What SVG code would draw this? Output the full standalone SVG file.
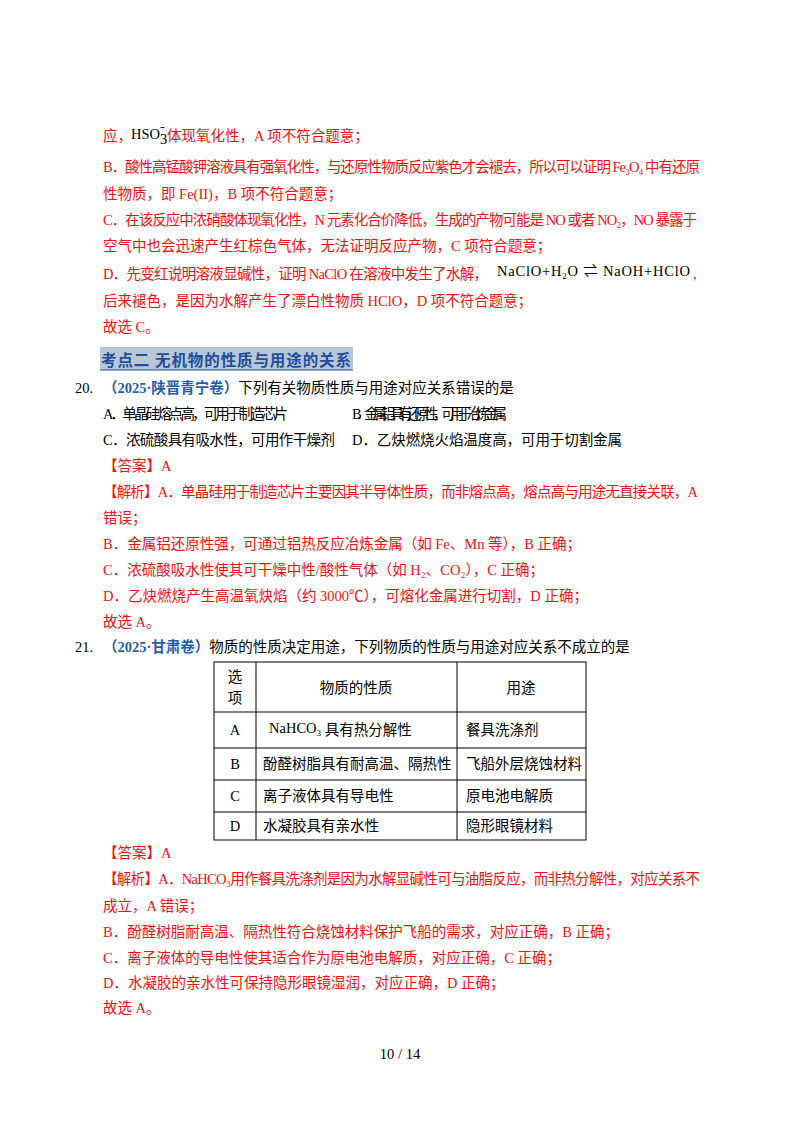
<svg xmlns="http://www.w3.org/2000/svg" width="800" height="1132" viewBox="0 0 800 1132">
<style>
text{font-family:"Liberation Serif","Noto Sans CJK SC",serif;font-size:14.5px;fill:#000}
.r{fill:#f01010}
.b{fill:#1f5fb0;font-weight:bold}
.h{fill:#1f4e9a;font-weight:bold;font-size:15.5px}
.t{stroke:#000;stroke-width:1;fill:none}
</style>
<rect width="800" height="1132" fill="#fff"/>
<g id="part1">
<text x="103" y="141" class="r">应，</text>
<text x="131" y="139" font-size="14.5">HSO</text>
<text x="160" y="144" font-size="8">3</text>
<text x="160" y="131" font-size="9">-</text>
<text x="167" y="141" class="r">体现氧化性，A 项不符合题意；</text>
<text x="103" y="172" class="r" textLength="597">B．酸性高锰酸钾溶液具有强氧化性，与还原性物质反应紫色才会褪去，所以可以证明 Fe₃O₄ 中有还原</text>
<text x="103" y="199" class="r">性物质，即 Fe(II)，B 项不符合题意；</text>
<text x="103" y="225" class="r" textLength="594">C．在该反应中浓硝酸体现氧化性，N 元素化合价降低，生成的产物可能是 NO 或者 NO₂，NO 暴露于</text>
<text x="103" y="251" class="r">空气中也会迅速产生红棕色气体，无法证明反应产物，C 项符合题意；</text>
<text x="103" y="279" class="r" textLength="385">D．先变红说明溶液显碱性，证明 NaClO 在溶液中发生了水解，</text>
<text x="497" y="276" font-size="15.5" textLength="193">NaClO+H<tspan font-size="9" dy="3">2</tspan><tspan dy="-3">O ⇌ NaOH+HClO</tspan></text>
<text x="693" y="279" class="r">,</text>
<text x="103" y="306" class="r">后来褪色，是因为水解产生了漂白性物质 HClO，D 项不符合题意；</text>
<text x="103" y="332" class="r">故选 C。</text>
</g>
<g id="heading">
<rect x="100" y="347" width="253" height="23" fill="#b8c6d6"/>
<line x1="100" y1="370" x2="353" y2="370" stroke="#1f4e9a" stroke-width="1.2"/>
<text x="101" y="366" class="h" textLength="250">考点二 无机物的性质与用途的关系</text>
</g>
<g id="q20">
<text x="75" y="393">20.</text>
<text x="103" y="393"><tspan class="b">（2025·陕晋青宁卷）</tspan>下列有关物质性质与用途对应关系错误的是</text>
<text x="103" y="419" textLength="185">A．单晶硅熔点高，可用于制造芯片</text>
<text x="352" y="419" textLength="155">B．金属铝具有还原性，可用于冶炼金属</text>
<text x="103" y="445" textLength="232">C．浓硫酸具有吸水性，可用作干燥剂</text>
<text x="352" y="445" textLength="270">D．乙炔燃烧火焰温度高，可用于切割金属</text>
<text x="103" y="471" class="r">【答案】A</text>
<text x="103" y="497" class="r" textLength="595">【解析】A．单晶硅用于制造芯片主要因其半导体性质，而非熔点高，熔点高与用途无直接关联，A</text>
<text x="103" y="523" class="r">错误；</text>
<text x="103" y="549" class="r">B．金属铝还原性强，可通过铝热反应冶炼金属（如 Fe、Mn 等），B 正确；</text>
<text x="103" y="575" class="r">C．浓硫酸吸水性使其可干燥中性/酸性气体（如 H₂、CO₂），C 正确；</text>
<text x="103" y="601" class="r">D．乙炔燃烧产生高温氧炔焰（约 3000℃），可熔化金属进行切割，D 正确；</text>
<text x="103" y="627" class="r">故选 A。</text>
</g>
<g id="q21">
<text x="75" y="652">21.</text>
<text x="103" y="652"><tspan class="b">（2025·甘肃卷）</tspan>物质的性质决定用途，下列物质的性质与用途对应关系不成立的是</text>
</g>
<g id="table">
<rect x="214" y="662" width="372" height="178" class="t"/>
<line x1="256" y1="662" x2="256" y2="840" class="t"/>
<line x1="457" y1="662" x2="457" y2="840" class="t"/>
<line x1="214" y1="712" x2="586" y2="712" class="t"/>
<line x1="214" y1="748" x2="586" y2="748" class="t"/>
<line x1="214" y1="780" x2="586" y2="780" class="t"/>
<line x1="214" y1="812" x2="586" y2="812" class="t"/>
<text x="235" y="682" text-anchor="middle">选</text>
<text x="235" y="703" text-anchor="middle">项</text>
<text x="356" y="693" text-anchor="middle">物质的性质</text>
<text x="521" y="693" text-anchor="middle">用途</text>
<text x="235" y="735" text-anchor="middle">A</text>
<text x="269" y="733">NaHCO<tspan font-size="9" dy="3">3</tspan><tspan dy="-1"> 具有热分解性</tspan></text>
<text x="466" y="735">餐具洗涤剂</text>
<text x="235" y="769" text-anchor="middle">B</text>
<text x="263" y="769">酚醛树脂具有耐高温、隔热性</text>
<text x="466" y="769">飞船外层烧蚀材料</text>
<text x="235" y="801" text-anchor="middle">C</text>
<text x="263" y="801">离子液体具有导电性</text>
<text x="466" y="801">原电池电解质</text>
<text x="235" y="831" text-anchor="middle">D</text>
<text x="263" y="831">水凝胶具有亲水性</text>
<text x="466" y="831">隐形眼镜材料</text>
</g>
<g id="ans21">
<text x="103" y="858" class="r">【答案】A</text>
<text x="103" y="884" class="r" textLength="597">【解析】A．NaHCO₃用作餐具洗涤剂是因为水解显碱性可与油脂反应，而非热分解性，对应关系不</text>
<text x="103" y="911" class="r">成立，A 错误；</text>
<text x="103" y="937" class="r">B．酚醛树脂耐高温、隔热性符合烧蚀材料保护飞船的需求，对应正确，B 正确；</text>
<text x="103" y="963" class="r">C．离子液体的导电性使其适合作为原电池电解质，对应正确，C 正确；</text>
<text x="103" y="988" class="r">D．水凝胶的亲水性可保持隐形眼镜湿润，对应正确，D 正确；</text>
<text x="103" y="1013" class="r">故选 A。</text>
</g>
<text x="400" y="1059" text-anchor="middle">10 / 14</text>
</svg>
